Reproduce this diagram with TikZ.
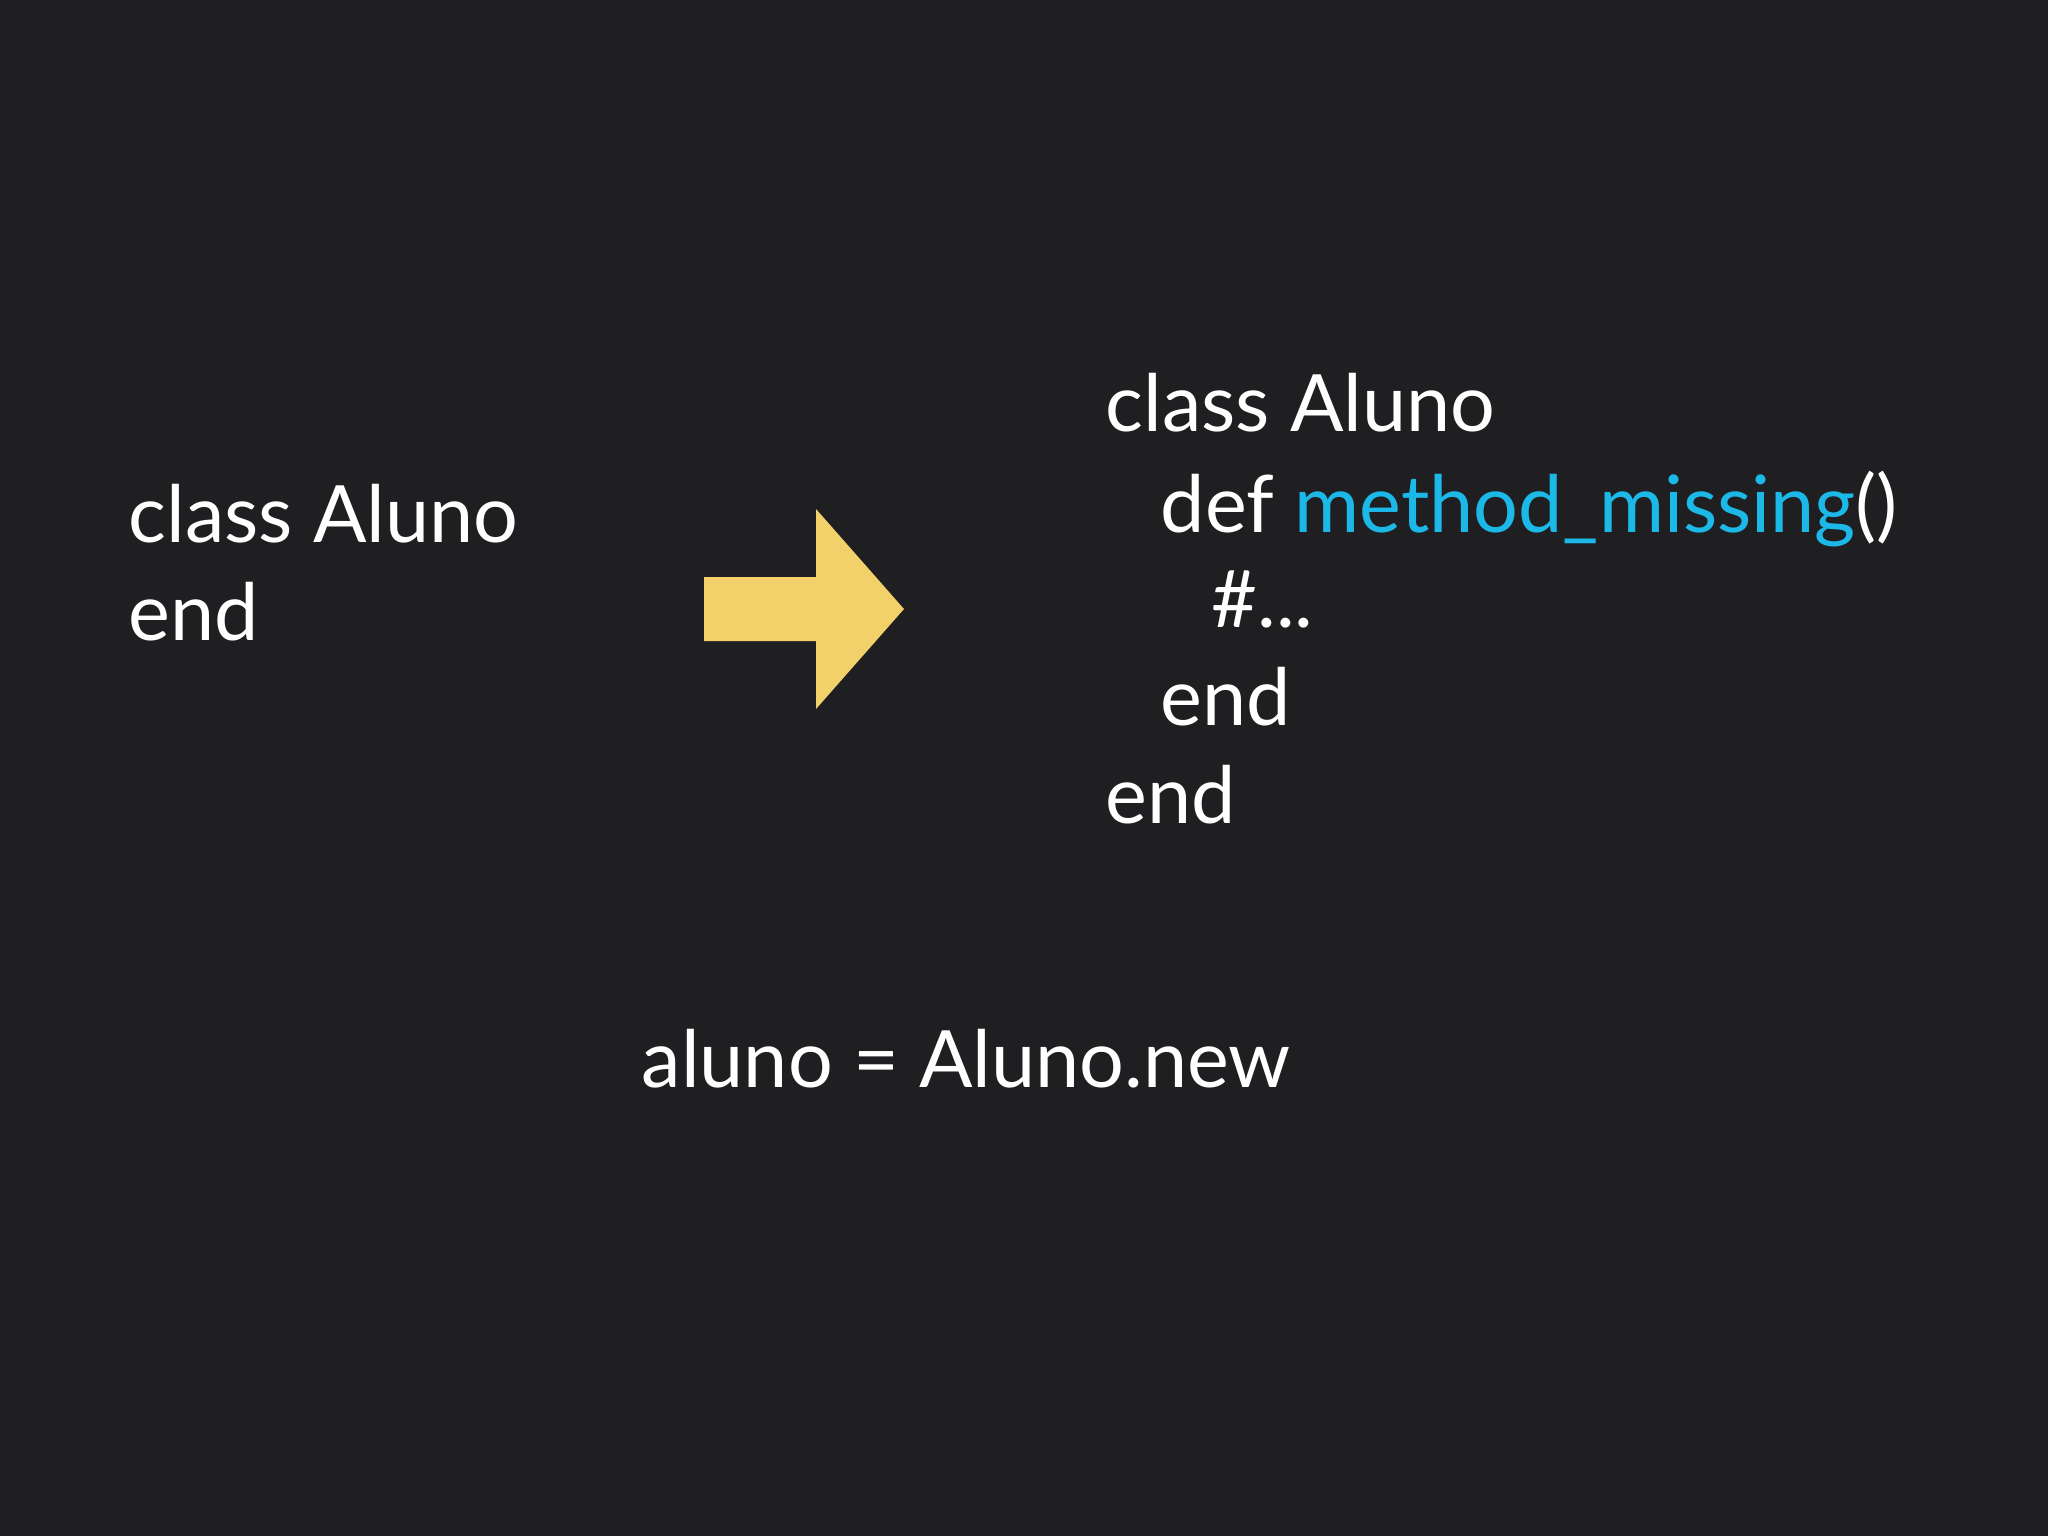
\documentclass[tikz,border=0pt]{standalone}
\usepackage{fontspec}
\setmainfont{Lato}
\definecolor{bg}{HTML}{1F1F21}
\definecolor{arrowc}{HTML}{F2D16B}
\definecolor{cyanc}{HTML}{1BB8E8}
\begin{document}
\begin{tikzpicture}[x=0.01cm,y=-0.01cm,
  code/.style={anchor=base west,inner sep=0pt,text=white,font=\fontsize{22.5}{28}\selectfont}]
\fill[bg] (0,0) rectangle (2048,1536);
\useasboundingbox (0,0) rectangle (2048,1536);
\node[code] (l1) at (128,542) {class Aluno};
\node[code] (l2) at (128,640) {end};
\fill[arrowc] (704,577) -- (816,577) -- (816,509) -- (904,609) -- (816,709) -- (816,641) -- (704,641) -- cycle;
\node[code] (r1) at (1105,431) {class Aluno};
\node[code] (r2) at (1160,532) {def \textcolor{cyanc}{method\_missing}()};
\node[code] (r3) at (1211,627) {\#...};
\node[code] (r4) at (1160,725) {end};
\node[code] (r5) at (1105,823) {end};
\node[code] (b1) at (641,1087) {aluno = Aluno.new};
\end{tikzpicture}
\end{document}
